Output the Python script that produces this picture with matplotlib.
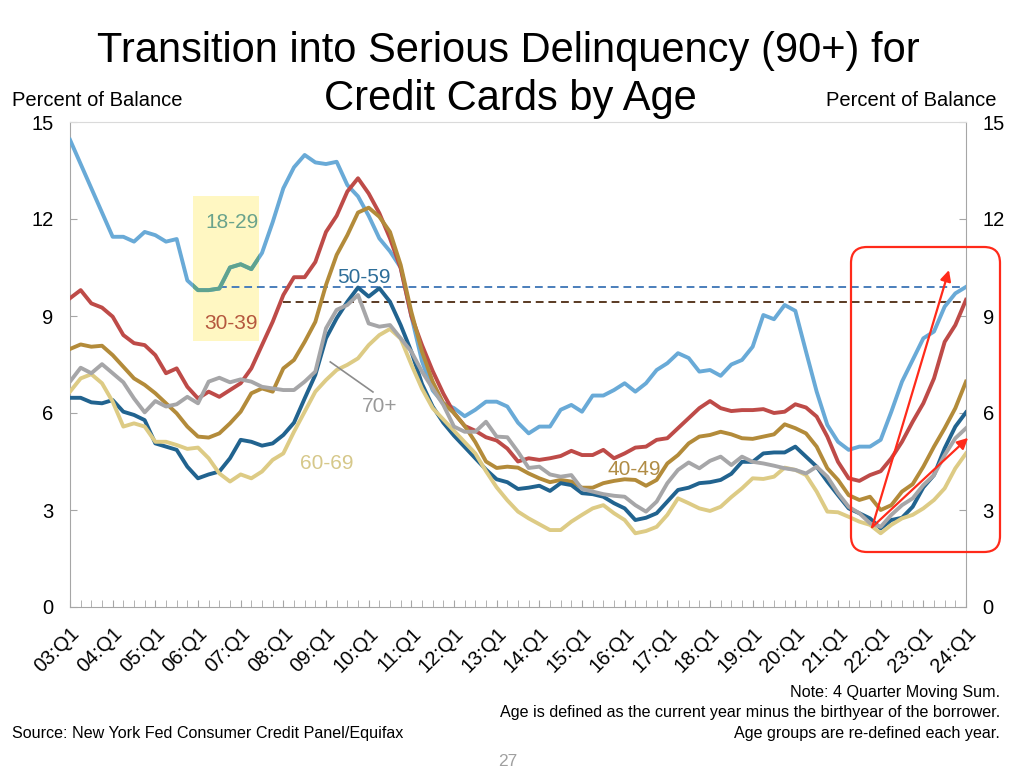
import matplotlib
matplotlib.use("Agg")
import matplotlib.pyplot as plt
from matplotlib.patches import Rectangle, FancyBboxPatch
from matplotlib.transforms import IdentityTransform
import numpy as np

plt.rcParams["font.family"] = ["Liberation Sans", "DejaVu Sans"]

# quarterly, 03:Q1 .. 24:Q1 (4 quarter moving sum, percent of balance)
quarters = np.arange(85)
tick_labels = [f"{y:02d}:Q1" for y in range(3, 25)]

age_18_29 = [14.45, 13.7, 12.95, 12.2, 11.45, 11.45, 11.3, 11.6, 11.5, 11.3, 11.38,
             10.1, 9.8, 9.8, 9.85, 10.5, 10.6, 10.45, 10.95, 11.9, 12.95, 13.6,
             13.98, 13.75, 13.7, 13.77, 13.05, 12.7, 12.1, 11.4,
             11.0, 10.5, 9.0, 7.6, 6.7, 6.3, 6.15, 5.9, 6.1, 6.35, 6.35, 6.2, 5.7, 5.37, 5.58, 5.58,
             6.1, 6.25, 6.04, 6.54, 6.54, 6.71, 6.92, 6.66, 6.92, 7.33, 7.54, 7.85, 7.7, 7.28, 7.33, 7.15,
             7.5, 7.64, 8.05, 9.03, 8.9, 9.34, 9.16, 7.9, 6.66, 5.63, 5.11, 4.86, 4.96, 4.96, 5.17,
             6.04, 6.97, 7.64, 8.31, 8.52, 9.29, 9.7, 9.9]
age_30_39 = [9.55, 9.8, 9.39, 9.26, 8.98, 8.41, 8.16, 8.1, 7.79, 7.23, 7.38,
             6.81, 6.45, 6.66, 6.5, 6.71, 6.92, 7.38, 8.1, 8.82, 9.65, 10.2,
             10.2, 10.67, 11.6, 12.1, 12.85, 13.26, 12.79, 12.18, 11.4, 10.48,
             9.0, 8.1, 7.3, 6.6, 6.0, 5.6, 5.45, 5.25, 5.15,
             4.9, 4.5, 4.6, 4.55, 4.6, 4.67, 4.83, 4.7, 4.7, 4.86, 4.6, 4.75, 4.93, 4.96, 5.17, 5.22,
             5.53, 5.84, 6.15, 6.37, 6.15, 6.06,
             6.09, 6.09, 6.12, 6.0, 6.04, 6.27, 6.17, 5.89, 5.27, 4.49, 3.98, 3.9, 4.08, 4.2, 4.6,
             5.11, 5.73, 6.3, 7.07, 8.2, 8.72, 9.5]
age_40_49 = [7.98, 8.12, 8.05, 8.08, 7.79, 7.43, 7.07, 6.87, 6.61, 6.3, 5.99,
             5.58, 5.27, 5.24, 5.37, 5.68, 6.04, 6.61, 6.76, 6.66, 7.38, 7.64,
             8.2, 8.82, 9.96, 10.89, 11.5, 12.2, 12.35, 12.07, 11.6, 10.58, 9.13, 7.9, 6.97, 6.3,
             6.0, 5.6, 5.1, 4.5, 4.3,
             4.34, 4.31, 4.13, 3.98, 3.86, 3.93, 3.88, 3.69, 3.69, 3.83, 3.9, 3.95, 3.93, 3.75, 3.93,
             4.44, 4.7, 5.06, 5.27, 5.32, 5.42, 5.34,
             5.22, 5.2, 5.27, 5.34, 5.65, 5.53, 5.37, 4.96, 4.29, 3.93, 3.46, 3.31, 3.41, 3.0, 3.15,
             3.57, 3.8, 4.34, 4.96, 5.53, 6.15, 6.97]
age_50_59 = [6.47, 6.47, 6.33, 6.3, 6.4, 6.04, 5.94, 5.78, 5.06, 4.96, 4.86,
             4.34, 3.98, 4.1, 4.19, 4.6, 5.17, 5.11, 4.99, 5.06, 5.32, 5.7,
             6.45, 7.18, 8.31, 8.93, 9.44, 9.88, 9.6, 9.86, 9.44, 8.72, 7.9, 6.9, 6.2, 5.7,
             5.3, 4.95, 4.6, 4.25, 3.95,
             3.86, 3.65, 3.69, 3.75, 3.59, 3.83, 3.77, 3.52, 3.49, 3.41, 3.21, 3.05, 2.69, 2.76, 2.9,
             3.26, 3.62, 3.69, 3.83, 3.86, 3.93, 4.12,
             4.49, 4.49, 4.75, 4.78, 4.78, 4.96, 4.65, 4.34, 3.88, 3.46, 3.05, 2.9, 2.74, 2.43, 2.69,
             2.76, 3.1, 3.7, 4.08, 4.91, 5.58, 6.02]
age_60_69 = [6.66, 7.07, 7.2, 6.92, 6.35, 5.58, 5.68, 5.58, 5.11, 5.11, 5.01,
             4.89, 4.93, 4.6, 4.13, 3.88, 4.1, 3.98, 4.19, 4.55, 4.75, 5.42,
             6.04, 6.66, 7.02, 7.33, 7.49, 7.69, 8.1, 8.41, 8.6, 8.3, 7.5, 6.75, 6.15, 5.8,
             5.45, 5.1, 4.75, 4.2, 3.7,
             3.3, 2.95, 2.74, 2.56, 2.38, 2.38, 2.64, 2.85, 3.05, 3.15, 2.9, 2.69, 2.28, 2.35, 2.48,
             2.85, 3.36, 3.21, 3.05, 2.97, 3.1, 3.4,
             3.67, 3.98, 3.96, 4.03, 4.31, 4.24, 4.08, 3.57, 2.95, 2.93, 2.79, 2.64, 2.54, 2.28, 2.54,
             2.74, 2.85, 3.05, 3.31, 3.67, 4.29, 4.75]
age_70p = [6.97, 7.4, 7.23, 7.51, 7.23, 6.95, 6.45, 6.02, 6.37, 6.2, 6.27,
           6.5, 6.3, 6.97, 7.09, 6.95, 7.04, 6.97, 6.81, 6.76, 6.71, 6.71,
           6.97, 7.28, 8.62, 9.19, 9.34, 9.65, 8.77, 8.67, 8.72, 8.31, 7.9, 7.28, 6.76, 6.25,
           5.58, 5.42, 5.42, 5.73, 5.27,
           5.25, 4.8, 4.3, 4.34, 4.1, 4.03, 4.08, 3.65, 3.57, 3.49, 3.44, 3.41, 3.15, 2.95, 3.26,
           3.83, 4.24, 4.47, 4.29, 4.52, 4.65, 4.39,
           4.65, 4.49, 4.44, 4.37, 4.29, 4.24, 4.13, 4.34, 4.03, 3.52, 3.1, 2.9, 2.59, 2.48, 2.85,
           3.15, 3.36, 3.77, 4.08, 4.7, 5.22, 5.53]

series = [age_18_29, age_30_39, age_40_49, age_50_59, age_60_69, age_70p]
colors = ["#69AAD7", "#BE4B48", "#B38B3A", "#21638F", "#DDCB85", "#A6A6A8"]

# reference levels (current 18-29 / 30-39 level) and where they start
ref_blue, ref_blue_start = 9.9, 14
ref_brown, ref_brown_start = 9.42, 20

# annotation arrows from the 2022 trough
arrow_start = (75.2, 2.47)
arrow_ends = [(82.4, 10.42), (84.2, 5.23)]

fig = plt.figure(figsize=(10.24, 7.76), dpi=100)
ax = fig.add_axes([70/1024, 1-607/776, 896/1024, 485/776])

# yellow highlight box behind the 18-29 dip
hl = Rectangle((11.5, 8.23), 6.2, 4.48, facecolor="#FFF7C2", edgecolor="none", zorder=1)
ax.add_patch(hl)

for s, c in zip(series, colors):
    ax.plot(quarters, s, color=c, lw=2.8, solid_joinstyle="round", zorder=3)
# the yellow tints the 18-29 line green where they overlap
tinted, = ax.plot(quarters, age_18_29, color="#5FA38F", lw=2.8, zorder=3.5)
tinted.set_clip_path(hl)

ax.hlines(ref_blue, ref_blue_start, 84, colors="#4A7EBB", linestyles=(0, (4, 2.5)), lw=1.4, zorder=2)
ax.hlines(ref_brown, ref_brown_start, 84, colors="#5A3A22", linestyles=(0, (4, 2.5)), lw=1.4, zorder=2)

for tip in arrow_ends:
    ax.annotate("", xy=tip, xytext=arrow_start, annotation_clip=False, zorder=6,
                arrowprops=dict(arrowstyle="-|>", color="#FF2A1A", lw=1.6, mutation_scale=16,
                                shrinkA=0, shrinkB=0))

# series labels
ax.text(15.2, 11.9, "18-29", color="#6AA38C", fontsize=15, ha="center", va="center", zorder=5)
ax.text(15.1, 8.78, "30-39", color="#B5573E", fontsize=15, ha="center", va="center", zorder=5)
ax.text(27.6, 10.2, "50-59", color="#2E6E99", fontsize=15, ha="center", va="center", zorder=5)
ax.text(29.0, 6.19, "70+", color="#999999", fontsize=15, ha="center", va="center", zorder=5)
ax.text(24.1, 4.45, "60-69", color="#D6C88A", fontsize=15, ha="center", va="center", zorder=5)
ax.text(52.9, 4.24, "40-49", color="#B08C45", fontsize=15, ha="center", va="center", zorder=5)
ax.plot([24.4, 28.4], [7.58, 6.65], color="#8C8C8C", lw=1.2, zorder=5)

ax.set_xlim(0, 84)
ax.set_ylim(0, 15)
ax.set_xticks(quarters[::4])
ax.set_xticklabels(tick_labels, rotation=45, ha="right", rotation_mode="anchor", fontsize=14.5)
ax.set_xticks(quarters, minor=True)
ax.set_yticks([0, 3, 6, 9, 12, 15])
ax.tick_params(axis="x", which="both", direction="in", length=5, color="#A6A6A6", pad=12)
ax.tick_params(axis="y", direction="in", length=5, color="#A6A6A6", labelsize=14.5, pad=12,
               right=True, labelright=True)
for side in ["left", "right", "bottom"]:
    ax.spines[side].set_color("#A6A6A6")
ax.spines["top"].set_color("#DADADA")

fig.text(0.496, 1-62/776, "Transition into Serious Delinquency (90+) for", fontsize=30,
         ha="center", va="baseline")
fig.text(0.498, 1-110/776, "Credit Cards by Age", fontsize=30, ha="center", va="baseline")
fig.text(12/1024, 1-106/776, "Percent of Balance", fontsize=14.5, ha="left", va="baseline")
fig.text(996/1024, 1-106/776, "Percent of Balance", fontsize=14.5, ha="right", va="baseline")

# red callout box around the recent rise
fig.add_artist(FancyBboxPatch((851, 776-552), 149, 305, boxstyle="round,pad=0,rounding_size=16",
                              transform=IdentityTransform(), facecolor="none",
                              edgecolor="#FF2A1A", lw=1.6, zorder=6))

notes = ["Note: 4 Quarter Moving Sum.",
         "Age is defined as the current year minus the birthyear of the borrower.",
         "Age groups are re-defined each year."]
for k, line in enumerate(notes):
    fig.text(1000/1024, 1-(697+20.5*k)/776, line, fontsize=11.6, ha="right", va="baseline")
fig.text(12/1024, 1-738/776, "Source: New York Fed Consumer Credit Panel/Equifax", fontsize=11.6,
         ha="left", va="baseline")
fig.text(508/1024, 1-766/776, "27", fontsize=12.5, color="#A0A0A0", ha="center", va="baseline")

fig.savefig("out.png", dpi=100)
